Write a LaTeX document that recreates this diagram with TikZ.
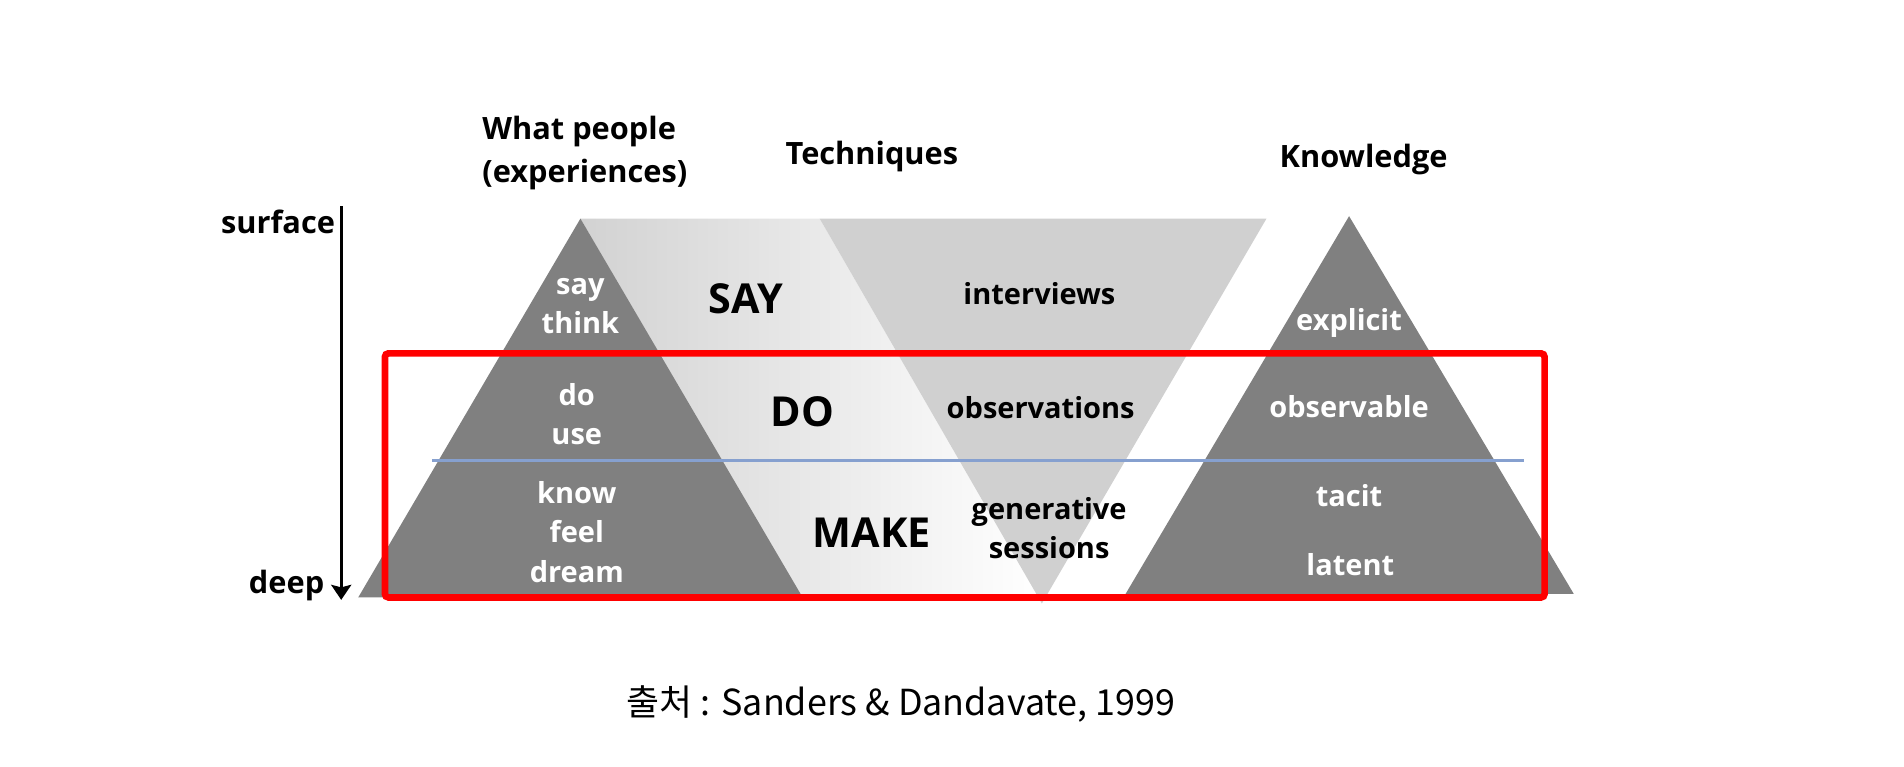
\documentclass[tikz,border=0pt]{standalone}
\usepackage{fontspec}
\setmainfont{Open Sans}
\newfontfamily\krfont{Noto Sans CJK KR}
\usetikzlibrary{arrows.meta, positioning}
\definecolor{pyrgray}{HTML}{808080}
\definecolor{techgray}{HTML}{D0D0D0}
\definecolor{fadegray}{HTML}{D2D2D2}
\definecolor{levelblue}{HTML}{86A0CF}
\definecolor{markred}{HTML}{FF0000}

\begin{document}
\begin{tikzpicture}[
  x=0.24286mm, y=-0.24286mm,
  >={Stealth[length=3mm, width=4mm, inset=0.5mm]},
  headlabel/.style={font=\fontsize{17.5}{24}\selectfont\bfseries, text=black,
    align=center, inner sep=0pt},
  inlabel/.style={font=\fontsize{16.5}{22.5}\selectfont\bfseries, text=white,
    align=center, inner sep=0pt},
  techlabel/.style={font=\fontsize{16.5}{22.5}\selectfont\bfseries, text=black,
    align=center, inner sep=0pt},
  modelabel/.style={font=\fontsize{23.5}{28}\selectfont\bfseries, text=black,
    inner sep=0pt},
]
\useasboundingbox (0,0) rectangle (1568,631);

% ------------------------------------------------------------
% Shapes
% ------------------------------------------------------------
% say / do / make band, fading to white
\shade[left color=fadegray, right color=white]
  (478,180) -- (675,180) -- (855,492) -- (660,492) -- cycle;

% techniques (upside-down triangle)
\fill[techgray] (675,180) -- (1043,180) -- (858,497) -- cycle;

% what people (left pyramid)
\fill[pyrgray] (478,180) -- (661,492) -- (295,492) -- cycle;

% knowledge (right pyramid)
\fill[pyrgray] (1111,178) -- (1296,489) -- (927,489) -- cycle;

% level line
\draw[levelblue, line width=1.5pt] (356,379) -- (1255,379);

% highlight box
\draw[markred, line width=3.8pt, rounded corners=2pt] (317,291) rectangle (1272,492);

% ------------------------------------------------------------
% Headings and depth axis
% ------------------------------------------------------------
\node[headlabel, align=left, anchor=west] (people) at (397,126)
  {What people\\(experiences)};
\node[headlabel] (techniques) at (718,129) {Techniques};
\node[headlabel] (knowledge) at (1123,131) {Knowledge};

\node[headlabel] (surface) at (229,183) {surface};
\node[headlabel] (deep) at (236,482) {deep};
\coordinate (axis-top) at (281,170);
\coordinate (axis-bot) at (281,494);
\draw[->, line width=1.7pt] (axis-top) -- (axis-bot);

% ------------------------------------------------------------
% Left pyramid labels
% ------------------------------------------------------------
\node[inlabel] (saythink) at (478,252) {say\\think};
\node[inlabel] (douse) at (475,341) {do\\use};
\node[inlabel] (knowfeel) at (475,438) {know\\feel\\dream};

% ------------------------------------------------------------
% Techniques
% ------------------------------------------------------------
\node[modelabel] (say) at (614,246) {SAY};
\node[modelabel] (do) at (661,339) {DO};
\node[modelabel] (make) at (718,439) {MAKE};

\node[techlabel] (interviews) at (856,242) {interviews};
\node[techlabel] (observations) at (857,336) {observations};
\node[techlabel] (generative) at (864,435) {generative\\sessions};

% ------------------------------------------------------------
% Right pyramid labels
% ------------------------------------------------------------
\node[inlabel] (explicit) at (1111,266) {explicit};
\node[inlabel] (observable) at (1111,335) {observable};
\node[inlabel] (tacit) at (1111,408) {tacit};
\node[inlabel] (latent) at (1112,465) {latent};

% source
\node[font=\fontsize{20.4}{24}\selectfont\krfont, inner sep=0pt] (source) at (742,580)
  {출처 : Sanders \& Dandavate, 1999};

\end{tikzpicture}
\end{document}
